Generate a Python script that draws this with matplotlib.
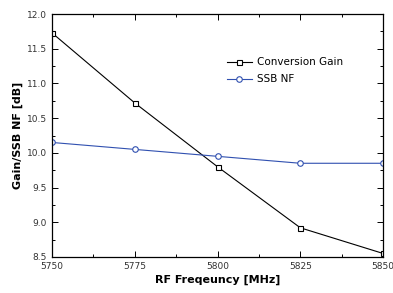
import matplotlib
matplotlib.use('Agg')
import matplotlib.pyplot as plt
from matplotlib.ticker import MultipleLocator

freq = [5750, 5775, 5800, 5825, 5850]
gain = [11.73, 10.72, 9.80, 8.92, 8.55]
nf = [10.15, 10.05, 9.95, 9.85, 9.85]

plt.rcParams['font.family'] = 'DejaVu Sans'

fig = plt.figure(figsize=(3.93, 2.93), dpi=100)
ax = fig.add_axes([0.132, 0.123, 0.843, 0.829])

ax.plot(freq, gain, color='black', lw=0.8, marker='s', ms=3.6,
        mfc='white', mec='black', mew=0.8, label='Conversion Gain')
ax.plot(freq, nf, color='#3050b0', lw=0.8, marker='o', ms=4,
        mfc='white', mec='#3050b0', mew=0.8, label='SSB NF')

ax.set_xlim(5750, 5850)
ax.set_ylim(8.5, 12.0)
ax.set_xticks(freq)
ax.xaxis.set_minor_locator(MultipleLocator(12.5))
ax.yaxis.set_major_locator(MultipleLocator(0.5))
ax.yaxis.set_minor_locator(MultipleLocator(0.25))
ax.yaxis.set_major_formatter(plt.FormatStrFormatter('%.1f'))
ax.tick_params(which='both', direction='in', top=True, right=True,
               labelsize=6.5, labelcolor='#333333', width=0.7)
ax.tick_params(which='major', length=4)
ax.tick_params(which='minor', length=2)
for s in ax.spines.values():
    s.set_linewidth(0.9)

ax.set_xlabel('RF Freqeuncy [MHz]', fontsize=8, fontweight='bold', labelpad=3)
ax.set_ylabel('Gain/SSB NF [dB]', fontsize=8, fontweight='bold', labelpad=3)

ax.legend(loc='upper left', bbox_to_anchor=(0.5, 0.86), frameon=False,
          fontsize=7.5, handlelength=2.4, handletextpad=0.5, labelspacing=0.65)

fig.savefig('out.png', dpi=100)
